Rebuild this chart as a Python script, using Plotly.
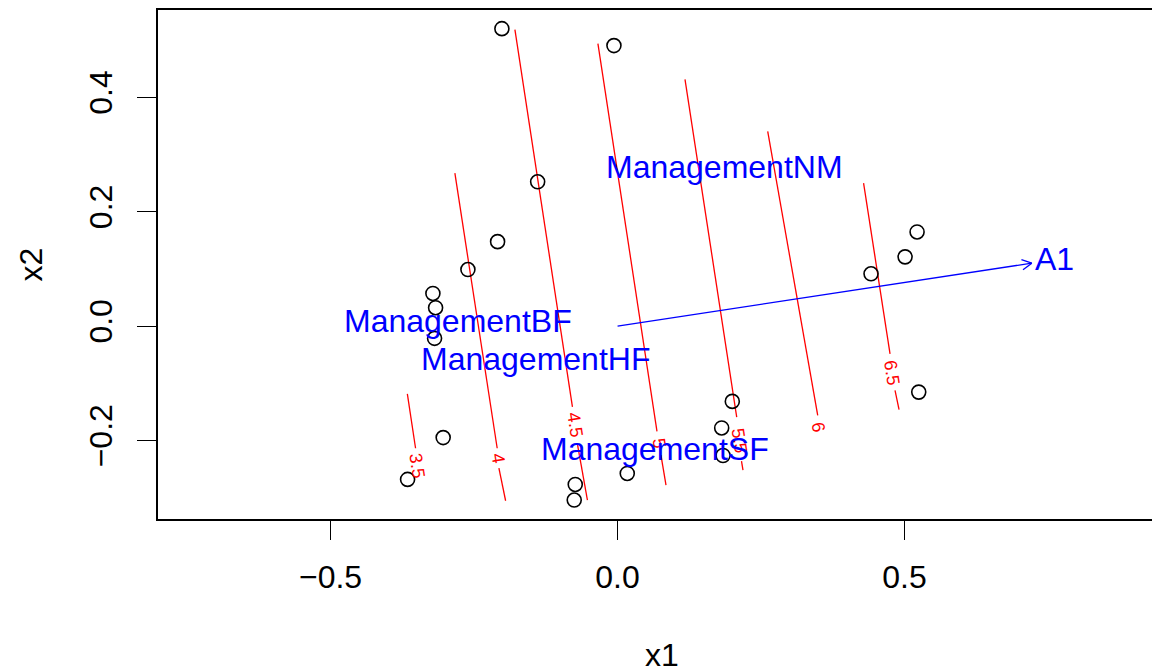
import math
import plotly.graph_objects as go

# ---- site scores (open circles) ----
site_x = [-0.2015, -0.0063, -0.1392, -0.2090, -0.2607, -0.3217, -0.3170, -0.3188,
          -0.3038, -0.3658, -0.0737, -0.0755, 0.0169, 0.1814, 0.1999, 0.1837,
          0.4416, 0.5009, 0.5218, 0.5247]
site_y = [0.520, 0.4904, 0.2523, 0.1477, 0.0990, 0.0571, 0.0322, -0.0213,
          -0.1948, -0.2679, -0.2767, -0.3040, -0.2575, -0.1780, -0.1315, -0.2261,
          0.0915, 0.1211, 0.1646, -0.1153]

# ---- fitted surface contours (ordisurf) ----
contour_levels = ["3.5", "4", "4.5", "5", "5.5", "6", "6.5"]
upper_x0 = [-0.3662, -0.2834, -0.1788, -0.0342, 0.1175, 0.2616, 0.4286]
upper_y0 = [-0.1185, 0.2674, 0.5183, 0.4939, 0.4312, 0.3404, 0.2500]
upper_x1 = [-0.3519, -0.2097, -0.0786, 0.0687, 0.2076, 0.3487, 0.4747]
upper_y1 = [-0.2134, -0.2134, -0.1411, -0.1838, -0.1589, -0.1559, -0.0484]
label_x = [-0.3496, -0.2084, -0.0742, 0.0721, 0.2116, 0.3492, 0.4777]
label_y = [-0.2448, -0.2308, -0.1733, -0.2047, -0.1995, -0.1768, -0.0819]
lower_x0 = [None, -0.2067, -0.0699, 0.0756, 0.2159, None, 0.4834]
lower_y0 = [None, -0.2483, -0.2064, -0.2256, -0.2361, None, -0.1124]
lower_x1 = [None, -0.1950, -0.0525, 0.0844, 0.2185, None, 0.4904]
lower_y1 = [None, -0.3052, -0.3040, -0.2779, -0.2517, None, -0.1460]

# ---- factor centroids ----
centroid_names = ["ManagementBF", "ManagementHF", "ManagementNM", "ManagementSF"]
centroid_x = [-0.278, -0.1434, 0.186, 0.066]
centroid_y = [0.0092, -0.0575, 0.278, -0.214]

# ---- fitted vector ----
vector_names = ["A1"]
vector_x = [0.7217]
vector_y = [0.1101]
vector_label_x = [0.7608]
vector_label_y = [0.1171]

X_RANGE = [-0.8006, 0.945]
Y_RANGE = [-0.3371, 0.5526]
# the page body has an 8px margin, so the figure is offset by 8px
W, H = 1152, 660
M_L, M_R, M_T, M_B = 150, 0, 0, 149
SX = (W - M_L - M_R) / (X_RANGE[1] - X_RANGE[0])
SY = (H - M_T - M_B) / (Y_RANGE[1] - Y_RANGE[0])

FONT = "Liberation Sans, Arial, Helvetica, sans-serif"
FS = 32
RED = "#FF0000"
BLUE = "#0000FF"

fig = go.Figure()

# contour lines
for i, lev in enumerate(contour_levels):
    fig.add_trace(go.Scatter(x=[upper_x0[i], upper_x1[i]], y=[upper_y0[i], upper_y1[i]],
                             mode="lines", line=dict(color=RED, width=1.3),
                             showlegend=False, hoverinfo="skip"))
    if lower_x0[i] is not None:
        fig.add_trace(go.Scatter(x=[lower_x0[i], lower_x1[i]], y=[lower_y0[i], lower_y1[i]],
                                 mode="lines", line=dict(color=RED, width=1.3),
                                 showlegend=False, hoverinfo="skip"))
    dxp = (upper_x1[i] - upper_x0[i]) * SX
    dyp = -(upper_y1[i] - upper_y0[i]) * SY
    ang = math.degrees(math.atan2(dyp, dxp))
    fig.add_annotation(x=label_x[i], y=label_y[i], text=lev, showarrow=False,
                       textangle=ang, font=dict(family=FONT, size=18, color=RED),
                       xanchor="center", yanchor="middle")

# sites
fig.add_trace(go.Scatter(x=site_x, y=site_y, mode="markers",
                         marker=dict(symbol="circle-open", size=14, color="black",
                                     line=dict(width=1.6, color="black")),
                         showlegend=False, hoverinfo="skip"))

# vector arrow
for i, nm in enumerate(vector_names):
    vx, vy = vector_x[i], vector_y[i]
    fig.add_trace(go.Scatter(x=[0, vx], y=[0, vy], mode="lines",
                             line=dict(color=BLUE, width=1.3),
                             showlegend=False, hoverinfo="skip"))
    th = math.atan2(vy * SY, vx * SX)
    head_len = 11.0
    for s in (1, -1):
        a = th + s * math.radians(28)
        hx = vx - head_len * math.cos(a) / SX
        hy = vy - head_len * math.sin(a) / SY
        fig.add_trace(go.Scatter(x=[hx, vx], y=[hy, vy], mode="lines",
                                 line=dict(color=BLUE, width=1.3),
                                 showlegend=False, hoverinfo="skip"))
    fig.add_annotation(x=vector_label_x[i], y=vector_label_y[i], text=nm, showarrow=False,
                       font=dict(family=FONT, size=FS, color=BLUE),
                       xanchor="center", yanchor="middle")

# centroid labels
for nm, cx, cy in zip(centroid_names, centroid_x, centroid_y):
    fig.add_annotation(x=cx, y=cy, text=nm, showarrow=False,
                       font=dict(family=FONT, size=FS, color=BLUE),
                       xanchor="center", yanchor="middle")

# axis titles
fig.add_annotation(xref="paper", yref="paper", x=(654 - M_L) / (W - M_L - M_R), y=0,
                   yshift=-136, text="x1", showarrow=False,
                   font=dict(family=FONT, size=FS, color="black"),
                   xanchor="center", yanchor="middle")
fig.add_annotation(xref="paper", yref="paper", x=0, y=0.5, xshift=-128,
                   text="x2", showarrow=False, textangle=-90,
                   font=dict(family=FONT, size=FS, color="black"),
                   xanchor="center", yanchor="middle")

fig.update_xaxes(range=X_RANGE, tickvals=[-0.5, 0.0, 0.5], tickformat=".1f",
                 showgrid=False, zeroline=False, showline=True, mirror=True,
                 linecolor="black", linewidth=1.6, ticks="outside", ticklen=19,
                 tickwidth=1.4, tickcolor="black", ticklabelstandoff=10,
                 tickfont=dict(family=FONT, size=FS, color="black"))
fig.update_yaxes(range=Y_RANGE, tickvals=[-0.2, 0.0, 0.2, 0.4], tickformat=".1f",
                 showgrid=False, zeroline=False, showline=True, mirror=False,
                 linecolor="black", linewidth=1.6, ticks="outside", ticklen=19,
                 tickwidth=1.4, tickcolor="black", tickangle=-90, ticklabelstandoff=12,
                 tickfont=dict(family=FONT, size=FS, color="black"))

fig.update_layout(width=W, height=H, margin=dict(l=M_L, r=M_R, t=M_T, b=M_B),
                  plot_bgcolor="white", paper_bgcolor="white", showlegend=False)

fig.write_html("out.html")
